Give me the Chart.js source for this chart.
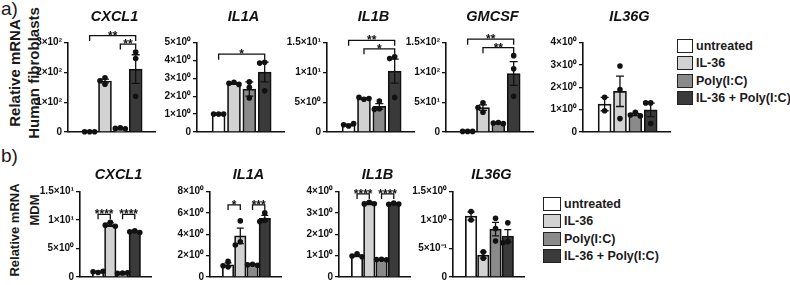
<!DOCTYPE html>
<html>
<head>
<meta charset="utf-8">
<script src="https://cdn.jsdelivr.net/npm/chart.js@4.4.1/dist/chart.umd.min.js"></script>
<style>
    body { margin: 0; width: 790px; height: 285px; position: relative; overflow: hidden; background: #fff; color: #1a1a1a; font-family: Arial, 'Liberation Sans', sans-serif; }
    canvas { position: absolute; }
    .lbl { position: absolute; white-space: nowrap; font-weight: bold; line-height: 1; transform: translate(-50%, -50%) rotate(-90deg); }
    .tag { position: absolute; font-size: 19px; line-height: 19px; }
    .legend { position: absolute; font-weight: bold; font-size: 12.5px; }
    .legend div { height: 17.3px; line-height: 14px; white-space: nowrap; }
    .legend span { display: inline-block; height: 14px; border: 1.6px solid #222; box-sizing: border-box; vertical-align: top; margin-right: 3px; }
</style>
</head>
<body>
<div class="tag" style="left:1px;top:-1px">a)</div>
<div class="tag" style="left:1px;top:145.5px">b)</div>
<div class="lbl" style="left:13.5px;top:73px;font-size:15px">Relative mRNA</div>
<div class="lbl" style="left:33px;top:73px;font-size:15px">Human fibroblasts</div>
<div class="lbl" style="left:13.5px;top:230px;font-size:13px">Relative mRNA</div>
<div class="lbl" style="left:34px;top:210px;font-size:13px">MDM</div>
<div class="legend" id="legA" style="left:677px;top:39px"></div>
<div class="legend" id="legB" style="left:543px;top:197px"></div>

<script>
// groups + colours
const groups = ['untreated', 'IL-36', 'Poly(I:C)', 'IL-36 + Poly(I:C)'];
const barColors = ['#ffffff', '#d2d2d2', '#8a8a8a', '#3a3a3a'];

// a) human fibroblasts
const fibGenes = ['CXCL1', 'IL1A', 'IL1B', 'GMCSF', 'IL36G'];
const fibMeans = [
    [1, 171, 12, 211],
    [1.0, 2.72, 2.4, 3.35],
    [1.2, 5.6, 4.3, 10.2],
    [1, 41, 15, 98],
    [1.25, 1.82, 0.78, 0.99]
];
const fibSems = [
    [0.3, 6, 1, 48],
    [0.02, 0.04, 0.4, 0.55],
    [0.12, 0.1, 0.45, 2.0],
    [0.2, 4.6, 0.6, 20],
    [0.3, 0.68, 0.05, 0.3]
];
const fibPoints = [
    [[1, 1, 1], [182, 172, 160], [14, 12, 11], [268, 246, 120]],
    [[1, 1, 1], [2.78, 2.72, 2.66], [2.8, 2.5, 1.9], [3.9, 3.85, 2.3]],
    [[1.0, 1.2, 1.4], [5.5, 5.8, 5.6], [5.2, 3.9, 3.8], [12.6, 12.3, 5.8]],
    [[1, 1, 1], [49, 41, 33], [16, 15, 14], [128, 106, 60]],
    [[1.55, 0.95], [2.95, 1.9, 0.6], [0.88, 0.76, 0.72], [1.3, 1.3, 0.38]]
];
const fibTicks = [[0, 100, 200, 300], [0, 1, 2, 3, 4, 5], [0, 5, 10, 15], [0, 50, 100, 150], [0, 1, 2, 3, 4]];
const fibTickLabels = [
    ['0', '1×10²', '2×10²', '3×10²'],
    ['0', '1×10⁰', '2×10⁰', '3×10⁰', '4×10⁰', '5×10⁰'],
    ['0', '5×10⁰', '1×10¹', '1.5×10¹'],
    ['0', '5×10¹', '1×10²', '1.5×10²'],
    ['0', '1×10⁰', '2×10⁰', '3×10⁰', '4×10⁰']
];
const fibSig = [
    [[2, 3, '**'], [0, 3, '**']],
    [[0, 3, '*']],
    [[1, 3, '*'], [0, 3, '**']],
    [[1, 3, '**'], [0, 3, '**']],
    []
];

// b) MDM
const mdmGenes = ['CXCL1', 'IL1A', 'IL1B', 'IL36G'];
const mdmMeans = [
    [0.9, 9.2, 0.7, 7.95],
    [1.15, 3.85, 1.15, 5.5],
    [1.0, 3.45, 0.82, 3.42],
    [1.07, 0.385, 0.84, 0.72]
];
const mdmSems = [
    [0.08, 0.3, 0.04, 0.1],
    [0.17, 0.72, 0.05, 0.26],
    [0.05, 0.06, 0.02, 0.03],
    [0.07, 0.055, 0.12, 0.11]
];
const mdmPoints = [
    [[0.8, 0.9, 1.0], [9.6, 9.1, 8.9], [0.7, 0.65, 0.75], [8.1, 7.95, 7.8]],
    [[1.46, 1.05, 0.95], [5.25, 3.3, 3.0], [1.2, 1.15, 1.1], [6.0, 5.3, 5.2]],
    [[1.08, 0.98, 0.95], [3.5, 3.42, 3.43], [0.83, 0.82, 0.81], [3.46, 3.4, 3.41]],
    [[1.15, 1.0], [0.44, 0.33], [1.03, 0.85, 0.63], [0.95, 0.62, 0.6]]
];
const mdmTicks = [[0, 5, 10, 15], [0, 2, 4, 6, 8], [0, 1, 2, 3, 4], [0, 0.5, 1, 1.5]];
const mdmTickLabels = [
    ['0', '5×10⁰', '1×10¹', '1.5×10¹'],
    ['0', '2×10⁰', '4×10⁰', '6×10⁰', '8×10⁰'],
    ['0', '1×10⁰', '2×10⁰', '3×10⁰', '4×10⁰'],
    ['0', '5×10⁻¹', '1×10⁰', '1.5×10⁰']
];
const mdmSig = [
    [[0, 1, '****'], [2, 3, '****']],
    [[0, 1, '*'], [2, 3, '***']],
    [[0, 1, '****'], [2, 3, '****']],
    []
];

// layout
const FONT = "Arial, 'Liberation Sans', sans-serif";
const YW = 46;
const rowA = { top: 0, height: 140, plotTop: 42.5, zero: 132.5, axisX: [67.5, 197, 327, 446, 582.5], width: 87,
    xMin: -0.7, xMax: 3.55, bar: 13, cap: 8, tick: 5.5, titleY: 21 };
const rowB = { top: 140, height: 145, plotTop: 191.5, zero: 279.5, axisX: [80, 210, 339, 453], width: 71,
    xMin: -0.75, xMax: 3.6, bar: 11.5, cap: 7, tick: 5, titleY: 178.5 };

// error bars, dots, brackets, gene title
const extras = {
    id: 'extras',
    afterDatasetsDraw(chart, args, o) {
        const { ctx, chartArea } = chart;
        const xs = chart.scales.x, ys = chart.scales.y;
        ctx.save();
        ctx.strokeStyle = '#111';
        ctx.fillStyle = '#111';
        ctx.lineWidth = 1.3;

        o.means.forEach((m, i) => {
            const cx = xs.getPixelForValue(i);
            const top = ys.getPixelForValue(m + o.sems[i]);
            const bot = ys.getPixelForValue(Math.max(0, m - o.sems[i]));
            ctx.beginPath();
            ctx.moveTo(cx, top); ctx.lineTo(cx, bot);
            ctx.moveTo(cx - o.cap / 2, top); ctx.lineTo(cx + o.cap / 2, top);
            ctx.moveTo(cx - o.cap / 2, bot); ctx.lineTo(cx + o.cap / 2, bot);
            ctx.stroke();
        });

        // simple beeswarm so close points spread sideways
        const r = 2.8, d = 2 * r - 0.6;
        o.points.forEach((arr, i) => {
            const cx = xs.getPixelForValue(i);
            const placed = [];
            arr.forEach(v => {
                const py = ys.getPixelForValue(v);
                let px = cx;
                for (const off of [0, -d, d, -2 * d, 2 * d]) {
                    if (placed.every(q => Math.hypot(q[0] - (cx + off), q[1] - py) >= d)) { px = cx + off; break; }
                }
                placed.push([px, py]);
                ctx.beginPath();
                ctx.arc(px, py, r, 0, Math.PI * 2);
                ctx.fill();
            });
        });

        // significance brackets
        const topPx = (a, b) => {
            let best = Infinity;
            for (let k = a; k <= b; k++) {
                const hi = Math.max(o.means[k] + o.sems[k], ...o.points[k]);
                best = Math.min(best, ys.getPixelForValue(hi));
            }
            return best;
        };
        const sig = o.sig.map(s => ({ a: s[0], b: s[1], t: s[2], y: topPx(s[0], s[1]) - 8 }));
        sig.sort((u, v) => (u.b - u.a) - (v.b - v.a));
        const done = [];
        let nested = false;
        sig.forEach(s => {
            done.forEach(q => {
                if (!(q.b < s.a || q.a > s.b)) { s.y = Math.min(s.y, q.y - 8.5); nested = true; }
            });
            done.push(s);
        });
        if (!nested && sig.length) {
            const y = Math.min(...sig.map(s => s.y));
            sig.forEach(s => { s.y = y; });
        }
        ctx.lineWidth = 1.3;
        ctx.font = 'bold 12px ' + FONT;
        ctx.textAlign = 'center';
        ctx.textBaseline = 'alphabetic';
        sig.forEach(s => {
            const x1 = xs.getPixelForValue(s.a), x2 = xs.getPixelForValue(s.b);
            ctx.beginPath();
            ctx.moveTo(x1, s.y + o.tick); ctx.lineTo(x1, s.y); ctx.lineTo(x2, s.y); ctx.lineTo(x2, s.y + o.tick);
            ctx.stroke();
            ctx.fillText(s.t, (x1 + x2) / 2, s.y + 4);
        });

        ctx.font = 'italic bold 14.5px ' + FONT;
        ctx.fillText(o.title, (chartArea.left + chartArea.right) / 2 + 3, o.titleY);
        ctx.restore();
    }
};

function makePanel(row, k, gene, means, sems, pts, ticks, tickLabels, sig) {
    const cv = document.createElement('canvas');
    cv.width = YW + row.width + 8;
    cv.height = row.height;
    cv.style.left = (row.axisX[k] - YW) + 'px';
    cv.style.top = row.top + 'px';
    document.body.appendChild(cv);

    new Chart(cv, {
        type: 'bar',
        data: {
            datasets: [{
                label: gene,
                data: means.map((v, i) => ({ x: i, y: v })),
                backgroundColor: barColors,
                borderColor: '#111',
                borderWidth: 1.7,
                barThickness: row.bar
            }]
        },
        options: {
            responsive: false,
            animation: false,
            devicePixelRatio: 1,
            layout: { padding: { top: row.plotTop - row.top, bottom: row.top + row.height - row.zero, left: 0, right: 8 } },
            plugins: {
                legend: { display: false },
                tooltip: { enabled: false },
                extras: { means, sems, points: pts, sig, title: gene, cap: row.cap, tick: row.tick, titleY: row.titleY - row.top }
            },
            scales: {
                x: {
                    type: 'linear',
                    min: row.xMin,
                    max: row.xMax,
                    ticks: { display: false },
                    grid: { display: false },
                    border: { color: '#111', width: 1.6 },
                    afterBuildTicks: s => { s.ticks = [0, 1, 2, 3].map(v => ({ value: v })); },
                    afterFit: s => { s.height = 0; }
                },
                y: {
                    min: 0,
                    max: ticks[ticks.length - 1],
                    afterBuildTicks: s => { s.ticks = ticks.map(v => ({ value: v })); },
                    afterFit: s => { s.width = YW; },
                    ticks: {
                        callback: (v, i) => tickLabels[i],
                        color: '#111',
                        font: { family: FONT, size: 10, weight: 'bold' },
                        padding: 2,
                        autoSkip: false
                    },
                    grid: { drawOnChartArea: false, drawTicks: true, tickLength: 4, color: '#111', lineWidth: 1.3 },
                    border: { color: '#111', width: 1.6 }
                }
            }
        },
        plugins: [extras]
    });
}

function buildLegend(id, boxW) {
    document.getElementById(id).innerHTML = groups.map((g, i) =>
        `<div><span style="width:${boxW}px;background:${barColors[i]}"></span>${g}</div>`
    ).join('');
}

fibGenes.forEach((g, k) => makePanel(rowA, k, g, fibMeans[k], fibSems[k], fibPoints[k], fibTicks[k], fibTickLabels[k], fibSig[k]));
mdmGenes.forEach((g, k) => makePanel(rowB, k, g, mdmMeans[k], mdmSems[k], mdmPoints[k], mdmTicks[k], mdmTickLabels[k], mdmSig[k]));
buildLegend('legA', 16);
buildLegend('legB', 18);
</script>
</body>
</html>
